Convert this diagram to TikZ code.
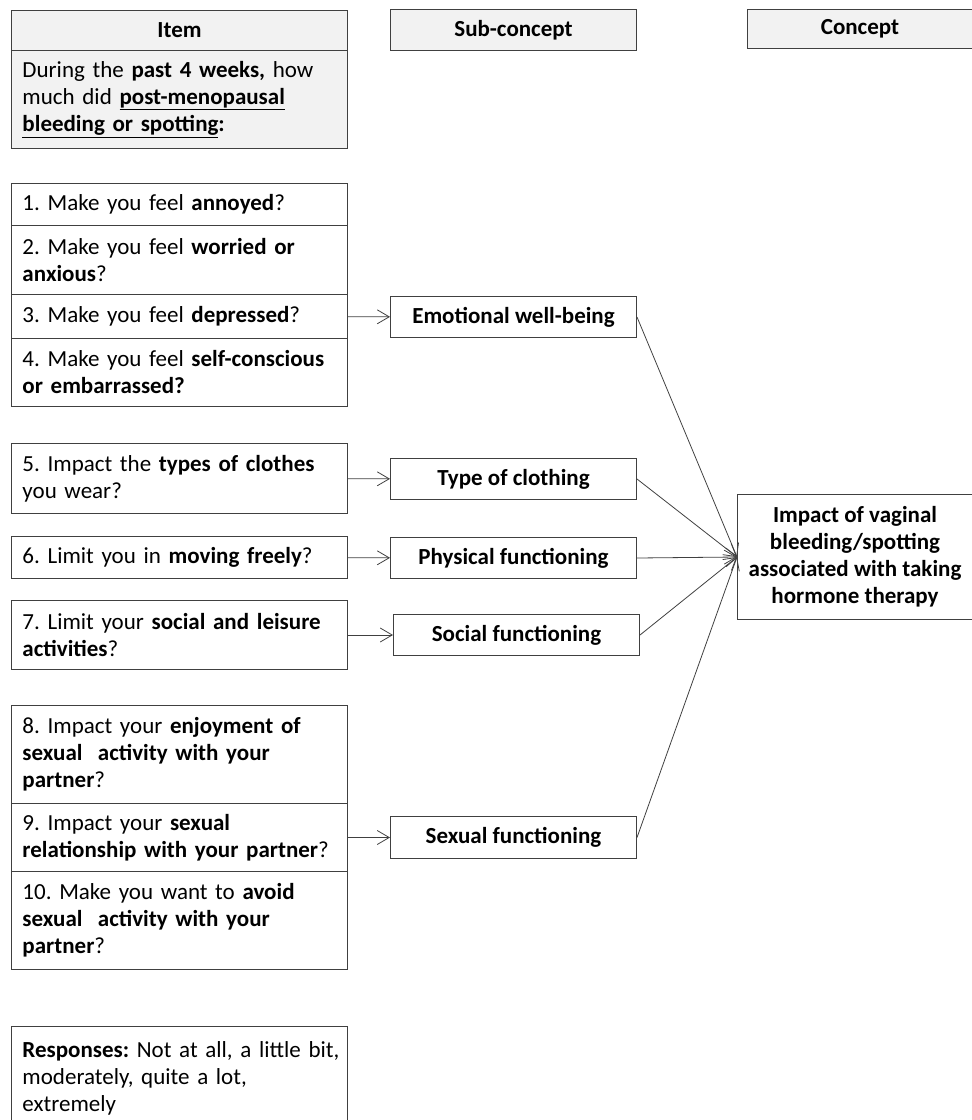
\documentclass[tikz,border=0pt]{standalone}
\usepackage{fontspec}
\setmainfont{Carlito}
\usetikzlibrary{arrows.meta, positioning}
\definecolor{myline}{RGB}{64,64,64}
\definecolor{hdrgray}{RGB}{242,242,242}
\newcommand{\bigtxt}{\fontsize{23}{27}\selectfont\frenchspacing}
\tikzset{
  hdr/.style={rectangle, draw=myline, fill=hdrgray, anchor=north west,
    align=center, font=\bigtxt\bfseries, line width=1pt, inner sep=2pt},
  itembox/.style={rectangle, draw=myline, anchor=north west,
    text width=314pt, align=left, font=\bigtxt, inner xsep=11pt,
    inner ysep=2pt, line width=1pt},
  subbox/.style={rectangle, draw=myline, anchor=north west,
    minimum width=246pt, minimum height=41pt, align=center,
    font=\bigtxt\bfseries, line width=1pt, inner sep=2pt},
  arrow/.style={-{Straight Barb[length=12pt,width=14pt]}, line width=0.8pt, color=myline}
}

\begin{document}
\begin{tikzpicture}[x=1pt, y=-1pt]
  \useasboundingbox (0,0) rectangle (972,1120);

  \node[hdr, minimum width=336pt, minimum height=40pt] (itemhdr) at (11,10) {Item};
  \node[hdr, minimum width=246pt, minimum height=41pt] (subhdr) at (390,9) {Sub-concept};
  \node[hdr, minimum width=225pt, minimum height=39pt] (conhdr) at (747,9) {Concept};

  \node[itembox, fill=hdrgray, minimum height=98pt] (question) at (11,50)
    {During the \textbf{past 4 weeks,} how\\much did \underline{\textbf{post-menopausal}}\\\underline{\textbf{bleeding or spotting}}\textbf{:}};

  \node[itembox, minimum height=42pt] (i1) at (11,183) {1. Make you feel \textbf{annoyed}?};
  \node[itembox, minimum height=69pt] (i2) at (11,225) {2. Make you feel \textbf{worried or}\\\textbf{anxious}?};
  \node[itembox, minimum height=44pt] (i3) at (11,294) {3. Make you feel \textbf{depressed}?};
  \node[itembox, minimum height=68pt] (i4) at (11,338) {4. Make you feel \textbf{self-conscious}\\\textbf{or embarrassed?}};
  \node[itembox, minimum height=70pt] (i5) at (11,443) {5. Impact the \textbf{types of clothes}\\you wear?};
  \node[itembox, minimum height=42pt] (i6) at (11,536) {6. Limit you in \textbf{moving freely}?};
  \node[itembox, minimum height=69pt] (i7) at (11,600) {7. Limit your \textbf{social and leisure}\\\textbf{activities}?};
  \node[itembox, minimum height=98pt] (i8) at (11,705) {8. Impact your \textbf{enjoyment of}\\\textbf{sexual\ \ activity with your}\\\textbf{partner}?};
  \node[itembox, minimum height=68pt] (i9) at (11,803) {9. Impact your \textbf{sexual}\\\textbf{relationship with your partner}?};
  \node[itembox, minimum height=98pt] (i10) at (11,871) {10. Make you want to \textbf{avoid}\\\textbf{sexual\ \ activity with your}\\\textbf{partner}?};
  \node[itembox, inner ysep=15pt] (resp) at (11,1026)
    {\mbox{\textbf{Responses:} Not at all, a little bit,}\\moderately, quite a lot,\\extremely};

  \node[subbox] (emo) at (390,296) {Emotional well-being};
  \node[subbox] (cloth) at (390,458) {Type of clothing};
  \node[subbox] (phys) at (390,537) {Physical functioning};
  \node[subbox] (social) at (393,614) {Social functioning};
  \node[subbox, minimum height=42pt] (sexual) at (390,816) {Sexual functioning};

  \node[subbox, minimum width=235pt, minimum height=125pt] (impact) at (737,494)
    {Impact of vaginal\\bleeding/spotting\\associated with taking\\hormone therapy};

  \draw[arrow] (i3) -- (emo);
  \draw[arrow] (i5) -- (cloth);
  \draw[arrow] (i6) -- (phys);
  \draw[arrow] (i7) -- (social);
  \draw[arrow] (i9) -- (sexual);

  \foreach \s in {emo, cloth, phys, social, sexual}
    \draw[arrow] (\s.east) -- (impact.west);

\end{tikzpicture}
\end{document}
